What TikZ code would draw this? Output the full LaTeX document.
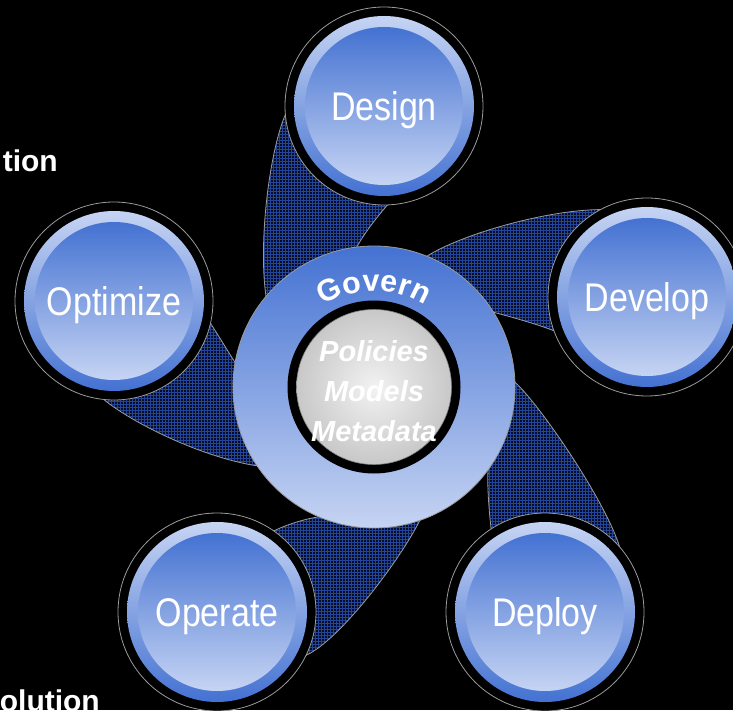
\documentclass[tikz,border=0pt]{standalone}
\usepackage{fontspec}
\setmainfont{Liberation Sans}
\usetikzlibrary{patterns,decorations.text}
\definecolor{bluetop}{HTML}{4472D2}
\definecolor{bluelight}{HTML}{C6D4F3}
\definecolor{bluemid}{HTML}{8AA3E2}
\definecolor{bladebase}{HTML}{050D24}
\definecolor{bladeline}{HTML}{22449A}
\definecolor{edgegray}{HTML}{9A9A9A}
\definecolor{discin}{HTML}{F2F2F2}
\definecolor{discout}{HTML}{C8C8C8}
\newcommand\govfont{\fontsize{30.5}{34}\selectfont\bfseries}
\newcommand\mysat[2]{%
  \draw[edgegray, line width=0.8pt, fill=black] (#1.center) circle (99);
  \shade[top color=bluelight, bottom color=bluetop] (#1.center) circle (90);
  \shade[top color=bluetop, bottom color=bluelight] (#1.center) circle (79);
  \node[satlabel] (#1-label) at ([yshift=-14.3pt]#1.center) {#2};
}
\tikzset{
  spot/.style={circle, minimum size=198pt, inner sep=0pt, outer sep=0pt},
  hubshape/.style={circle, minimum size=282pt, inner sep=0pt, outer sep=0pt},
  blade/.style={draw=edgegray, line width=0.8pt, pattern=grid, pattern color=bladeline, preaction={fill=bladebase}},
  satlabel/.style={text=white, anchor=base, font=\fontsize{40}{48}\selectfont, xscale=0.85, inner sep=0pt},
  cornertext/.style={text=white, anchor=base east, font=\fontsize{30}{36}\selectfont\bfseries, inner sep=0pt},
}
\begin{document}
\begin{tikzpicture}[x=1pt,y=1pt]
\useasboundingbox (0,0) rectangle (733,710);
\clip (0,0) rectangle (733,710);
\fill[black] (0,0) rectangle (733,710);

% invisible placement nodes
\node[hubshape] (hub) at (374,323) {};
\node[spot] (design) at (384,604) {};
\node[spot] (develop) at (647,413) {};
\node[spot] (deploy) at (545,98) {};
\node[spot] (operate) at (217,98) {};
\node[spot] (optimize) at (114,409) {};

% blades
\path[blade] (hub.97) .. controls (365,478) and (378,494) .. (design.272)
  -- (design.185) .. controls (270,560) and (258,470) .. (hub.140) -- cycle;
\path[blade] (hub.68) .. controls (460,475) and (545,500) .. (develop.118)
  -- (develop.200) .. controls (540,385) and (508,394) .. (hub.32) -- cycle;
\path[blade] (hub.2) .. controls (540,305) and (605,210) .. (deploy.41)
  -- (deploy.123) .. controls (489,200) and (487,225) .. (hub.-36) -- cycle;
\path[blade] (hub.-71) .. controls (400,150) and (340,70) .. (operate.-26)
  -- (operate.55) .. controls (288,186) and (305,191) .. (hub.247) -- cycle;
\path[blade] (hub.170) .. controls (227,360) and (218.8,374) .. (optimize.347)
  -- (optimize.264) .. controls (135,285) and (205,252) .. (hub.214) -- cycle;

% hub
\shade[top color=bluetop, middle color=bluemid, bottom color=bluelight] (hub.center) circle (141);
\draw[edgegray, line width=0.8pt] (hub.center) circle (141);
\fill[black] (hub.center) circle (86.5);
\shade[inner color=discin, outer color=discout] (hub.center) circle (77.5);
\draw[gray, line width=0.6pt] (hub.center) circle (77.5);
\path[decorate, decoration={text along path, text={|\govfont|Govern}, text align=center, text color=white}]
  ([shift={(150:96)}]hub.center) arc[start angle=150, end angle=30, radius=96];
\node[text=white, align=center, font=\fontsize{29}{40}\selectfont\bfseries\itshape, inner sep=0pt, yshift=-4.5pt] (core) at (hub.center) {Policies\\Models\\Metadata};

% satellites
\mysat{design}{Design}
\mysat{develop}{Develop}
\mysat{deploy}{Deploy}
\mysat{operate}{Operate}
\mysat{optimize}{Optimize}

% cut-off slide texts
\node[cornertext] (toptext) at (58,538) {tion};
\node[cornertext] (bottext) at (100,-1) {olution};
\end{tikzpicture}
\end{document}
